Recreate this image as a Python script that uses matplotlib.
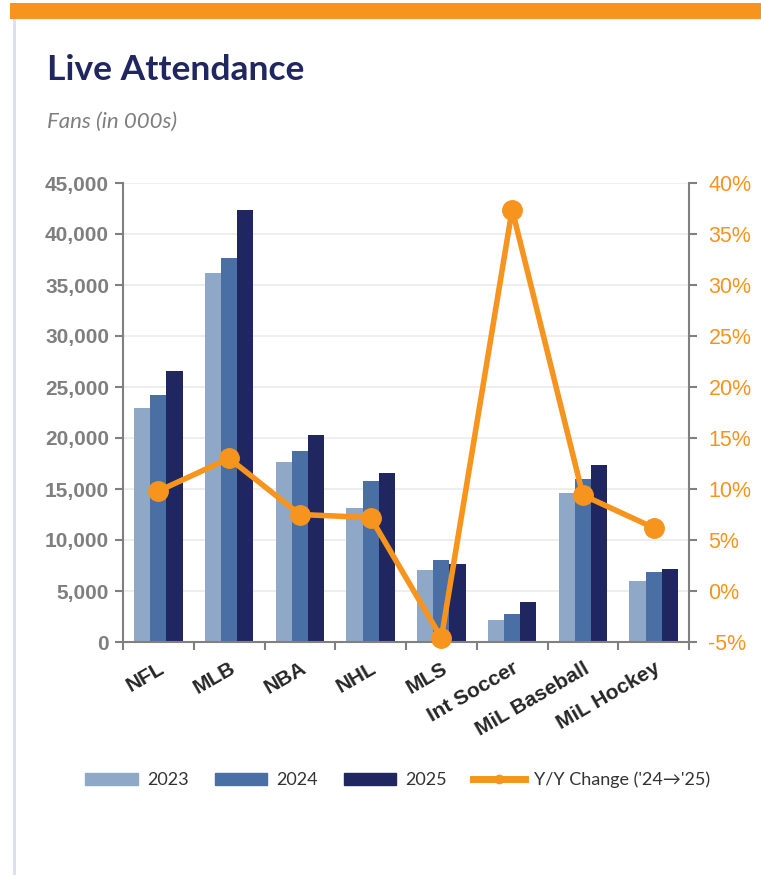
import matplotlib
matplotlib.use("Agg")
import matplotlib.pyplot as plt
import numpy as np
from matplotlib.patches import Rectangle
from matplotlib.lines import Line2D
from matplotlib.ticker import FuncFormatter

categories = ["NFL", "MLB", "NBA", "NHL", "MLS", "Int Soccer", "MiL Baseball", "MiL Hockey"]
att_2023 = [22900, 36200, 17600, 13100, 7050, 2150, 14600, 5950]
att_2024 = [24200, 37600, 18700, 15800, 8000, 2700, 16000, 6850]
att_2025 = [26600, 42400, 20300, 16600, 7600, 3900, 17400, 7200]
yoy_change = [9.8, 13.0, 7.5, 7.2, -4.6, 37.4, 9.4, 6.2]
left_ticks = [0, 5000, 10000, 15000, 20000, 25000, 30000, 35000, 40000, 45000]
right_ticks = [-5, 0, 5, 10, 15, 20, 25, 30, 35, 40]

c23, c24, c25 = "#8FA8C8", "#4A6FA5", "#1F2660"
orange = "#F7941D"
gray = "#808080"

fig = plt.figure(figsize=(7.61, 8.75), dpi=100)
fig.patch.set_facecolor("white")

# decorative frame
fig.add_artist(Rectangle((10/761, 1-19/875), 1, 16/875, transform=fig.transFigure,
                         facecolor=orange, edgecolor="none"))
fig.add_artist(Rectangle((12.5/761, 0), 3/761, 1-19/875, transform=fig.transFigure,
                         facecolor="#DDE0EE", edgecolor="none"))

fig.text(47/761, 1-70/875, "Live Attendance", fontsize=25.5, fontweight="bold",
         color="#1F2660", family="Lato", va="center", ha="left")
fig.text(47/761, 1-122/875, "Fans (in 000s)", fontsize=16, fontstyle="italic",
         color="#7F7F7F", family="Lato", va="center", ha="left")

ax = fig.add_axes([123/761, 1-642/875, (689-123)/761, (642-183)/875])
x = np.arange(len(categories))
w = 0.229
ax.bar(x - w, att_2023, w, color=c23, label="2023", zorder=2)
ax.bar(x, att_2024, w, color=c24, label="2024", zorder=2)
ax.bar(x + w, att_2025, w, color=c25, label="2025", zorder=2)
ax.set_xlim(-0.5, len(categories) - 0.5)
ax.set_ylim(0, 45000)
ax.set_yticks(left_ticks)
ax.yaxis.set_major_formatter(FuncFormatter(lambda v, p: f"{int(v):,}"))
ax.grid(axis="y", color="#EBEBEB", linewidth=1.2, zorder=0)
ax.set_axisbelow(True)
for s in ["top", "right"]:
    ax.spines[s].set_visible(False)
for s in ["left", "bottom"]:
    ax.spines[s].set_color(gray)
    ax.spines[s].set_linewidth(1.5)
ax.tick_params(axis="y", colors=gray, labelcolor="#7F7F7F", length=6, width=1.5, pad=4)
for lab in ax.get_yticklabels():
    lab.set_fontfamily("Liberation Sans")
    lab.set_fontweight("bold")
    lab.set_fontsize(15)

ax.set_xticks(np.arange(len(categories) + 1) - 0.5, minor=False)
ax.set_xticklabels([])
ax.tick_params(axis="x", which="major", colors=gray, length=6, width=1.5)
ax.set_xticks(x, minor=True)
ax.set_xticklabels(categories, minor=True, rotation=30, ha="right", rotation_mode="anchor",
                   fontsize=15, fontweight="bold", family="Liberation Sans", color="#262626")
ax.tick_params(axis="x", which="minor", length=0, pad=12)

ax2 = ax.twinx()
ax2.plot(x, yoy_change, color=orange, linewidth=4, marker="o", markersize=14,
         label="Y/Y Change ('24\u2192'25)", zorder=5, clip_on=False)
ax2.set_ylim(-5, 40)
ax2.set_yticks(right_ticks)
ax2.yaxis.set_major_formatter(FuncFormatter(lambda v, p: f"{int(v)}%"))
for s in ["top", "left", "bottom"]:
    ax2.spines[s].set_visible(False)
ax2.spines["right"].set_color(gray)
ax2.spines["right"].set_linewidth(1.5)
ax2.tick_params(axis="y", colors=gray, labelcolor=orange, length=6, width=1.5, pad=8)
for lab in ax2.get_yticklabels():
    lab.set_fontfamily("Liberation Sans")
    lab.set_fontsize(15.5)

handles = [Rectangle((0, 0), 1, 1, color=c23), Rectangle((0, 0), 1, 1, color=c24),
           Rectangle((0, 0), 1, 1, color=c25),
           Line2D([0], [0], color=orange, linewidth=5, marker="o", markersize=6)]
labels = ["2023", "2024", "2025", "Y/Y Change ('24\u2192'25)"]
leg = fig.legend(handles, labels, loc="center", bbox_to_anchor=(398/761, 1-780/875), ncol=4,
                 frameon=False, prop={"family": ["Lato", "DejaVu Sans"], "size": 13},
                 handlelength=2.9, handleheight=0.7, columnspacing=1.45, handletextpad=0.5)
for t in leg.get_texts():
    t.set_color("#333333")

fig.savefig("out.png", dpi=100, facecolor="white")
